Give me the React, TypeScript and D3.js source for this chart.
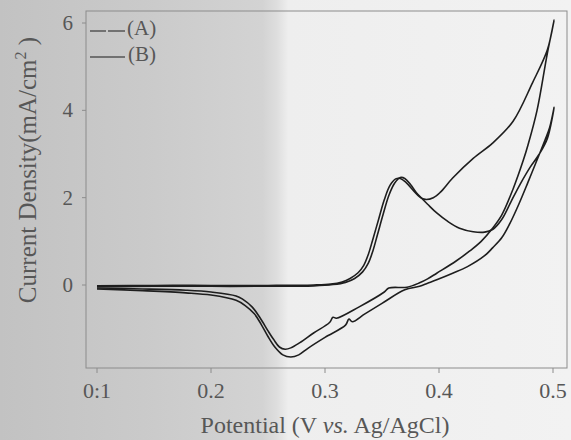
import React from "react";
import * as d3 from "d3";

const W = 571;
const H = 440;

// Tick labels
const xTicks = [0.1, 0.2, 0.3, 0.4, 0.5];
const yTicks = [0, 2, 4, 6];
const xTickLabels = ["0:1", "0.2", "0.3", "0.4", "0.5"];
const legendLabels = ["(A)", "(B)"];

// Curve A: potential (V) and current density (mA/cm2), forward then reverse scan
const curveA_V = [
  0.1, 0.15, 0.2, 0.25, 0.29, 0.305, 0.315, 0.322, 0.329, 0.334, 0.338, 0.342, 0.347, 0.352, 0.357, 0.362, 0.366, 0.371, 0.378, 0.383, 0.388, 0.395, 0.401, 0.412, 0.43, 0.447, 0.465, 0.482, 0.495, 0.501,
  0.495, 0.486, 0.478, 0.474, 0.465, 0.455, 0.447, 0.437, 0.427, 0.415, 0.398, 0.39, 0.383, 0.372, 0.356, 0.352, 0.33, 0.31, 0.307, 0.304, 0.29, 0.278, 0.27, 0.265, 0.26, 0.255, 0.25, 0.243, 0.236, 0.228, 0.222, 0.2, 0.178, 0.14, 0.1,
];
const curveA_J = [
  -0.02, -0.01, -0.01, -0.01, 0.0, 0.02, 0.07, 0.15, 0.28, 0.45, 0.7, 1.05, 1.5, 1.95, 2.28, 2.43, 2.44, 2.35, 2.15, 2.02, 1.96, 2.0, 2.12, 2.45, 2.9, 3.25, 3.75, 4.63, 5.38, 6.07,
  5.3, 4.0, 3.2, 2.86, 2.2, 1.6, 1.3, 1.0, 0.78, 0.55, 0.27, 0.14, 0.05, -0.05, -0.07, -0.16, -0.5, -0.76, -0.74, -0.86, -1.1, -1.32, -1.44, -1.47, -1.42, -1.25, -1.05, -0.75, -0.5, -0.33, -0.25, -0.16, -0.12, -0.09, -0.07,
];

// Curve B
const curveB_V = [
  0.1, 0.15, 0.2, 0.25, 0.29, 0.307, 0.318, 0.326, 0.333, 0.338, 0.342, 0.346, 0.351, 0.356, 0.361, 0.366, 0.37, 0.375, 0.38, 0.385, 0.39, 0.398, 0.408, 0.418, 0.43, 0.44, 0.447, 0.455, 0.463, 0.471, 0.48, 0.488, 0.495, 0.501,
  0.497, 0.493, 0.485, 0.478, 0.47, 0.462, 0.455, 0.447, 0.44, 0.425, 0.412, 0.398, 0.39, 0.383, 0.37, 0.35, 0.335, 0.324, 0.321, 0.318, 0.3, 0.285, 0.277, 0.27, 0.263, 0.256, 0.25, 0.244, 0.238, 0.23, 0.222, 0.2, 0.178, 0.14, 0.1,
];
const curveB_J = [
  -0.04, -0.03, -0.03, -0.03, -0.02, 0.01, 0.06, 0.15, 0.3, 0.5, 0.78, 1.15, 1.62, 2.05, 2.33, 2.46, 2.44, 2.3, 2.12, 1.98, 1.85, 1.65, 1.45, 1.3, 1.22, 1.21, 1.27, 1.5, 1.9, 2.3, 2.7, 3.0, 3.35, 4.07,
  3.6, 3.32, 2.8, 2.35, 1.85, 1.4, 1.08, 0.85, 0.67, 0.42, 0.27, 0.12, 0.04, -0.03, -0.11, -0.42, -0.66, -0.84, -0.78, -0.92, -1.2, -1.45, -1.6, -1.65, -1.6, -1.42, -1.18, -0.9, -0.66, -0.47, -0.35, -0.23, -0.18, -0.13, -0.09,
];

const plot = { left: 86, right: 567, top: 11, bottom: 368 };

const x = d3.scaleLinear().domain([0.1, 0.5]).range([97, 553]);
const y = d3.scaleLinear().domain([0, 6]).range([285, 23]);

const line = d3
  .line<[number, number]>()
  .x((d) => x(d[0]))
  .y((d) => y(d[1]))
  .curve(d3.curveCatmullRom.alpha(0.5));

const zip = (a: number[], b: number[]) => a.map((v, i) => [v, b[i]] as [number, number]);

const textColor = "#575757";
const font = "'Liberation Serif', 'DejaVu Serif', serif";

export default function App() {
  const pathA = line(zip(curveA_V, curveA_J)) || "";
  const pathB = line(zip(curveB_V, curveB_J)) || "";
  return (
    <svg
      width={W}
      height={H}
      style={{ position: "absolute", left: 0, top: 0, display: "block" }}
      fontFamily={font}
    >
      <defs>
        <linearGradient id="bg" x1="0" x2="1" y1="0" y2="0">
          <stop offset="0" stopColor="#c2c2c2" />
          <stop offset="0.25" stopColor="#cacaca" />
          <stop offset="0.46" stopColor="#d3d3d3" />
          <stop offset="0.485" stopColor="#dedede" />
          <stop offset="0.505" stopColor="#eeeeee" />
          <stop offset="1" stopColor="#f2f2f2" />
        </linearGradient>
      </defs>
      <rect x={0} y={0} width={W} height={H} fill="url(#bg)" />

      {/* frame */}
      <rect
        x={plot.left}
        y={plot.top}
        width={plot.right - plot.left}
        height={plot.bottom - plot.top}
        fill="none"
        stroke="#8c8c8c"
        strokeWidth={1}
      />

      {/* y ticks */}
      {yTicks.map((t) => (
        <g key={"y" + t}>
          <line x1={plot.left - 4} x2={plot.left} y1={y(t)} y2={y(t)} stroke="#8c8c8c" />
          <text x={73} y={y(t)} dy="0.34em" textAnchor="end" fontSize={21} fill={textColor}>
            {t}
          </text>
        </g>
      ))}

      {/* x ticks */}
      {xTicks.map((t, i) => (
        <g key={"x" + t}>
          <line x1={x(t)} x2={x(t)} y1={plot.bottom} y2={plot.bottom + 5} stroke="#8c8c8c" />
          <text x={x(t)} y={398} textAnchor="middle" fontSize={22} fill={textColor}>
            {xTickLabels[i]}
          </text>
        </g>
      ))}

      {/* axis titles */}
      <text x={325} y={433} textAnchor="middle" fontSize={24} fill={textColor}>
        Potential (V <tspan fontStyle="italic">vs.</tspan> Ag/AgCl)
      </text>
      <text
        transform="translate(36,170) rotate(-90)"
        textAnchor="middle"
        fontSize={25}
        fill={textColor}
      >
        Current Density(mA/cm
        <tspan fontSize={16} dy={-10}>
          2
        </tspan>
        <tspan dy={10}> )</tspan>
      </text>

      {/* legend */}
      <line x1={90} x2={125} y1={31} y2={31} stroke="#555" strokeWidth={1.3} strokeDasharray="16,2,17" />
      <text x={127} y={35} fontSize={21} fill={textColor}>
        {legendLabels[0]}
      </text>
      <line x1={90} x2={125} y1={57} y2={57} stroke="#555" strokeWidth={1.3} />
      <text x={128} y={61} fontSize={21} fill={textColor}>
        {legendLabels[1]}
      </text>

      {/* curves */}
      <path d={pathA} fill="none" stroke="#1e1e1e" strokeWidth={1.6} />
      <path d={pathB} fill="none" stroke="#1e1e1e" strokeWidth={1.6} />
    </svg>
  );
}
